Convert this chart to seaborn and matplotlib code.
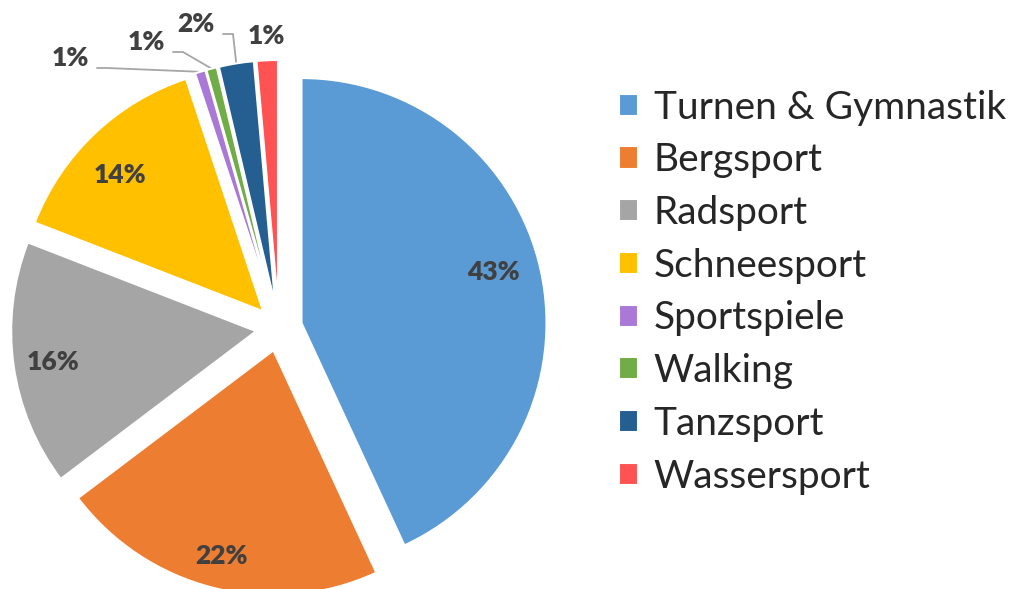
import numpy as np
import seaborn as sns
import matplotlib.pyplot as plt

# data
categories = ["Turnen & Gymnastik", "Bergsport", "Radsport", "Schneesport",
              "Sportspiele", "Walking", "Tanzsport", "Wassersport"]
shares = [43.1, 21.6, 16.2, 14.0, 0.7, 0.7, 2.3, 1.4]
colors = ["#5B9BD5", "#ED7D31", "#A5A5A5", "#FFC000",
          "#AA78D6", "#70AD47", "#255E91", "#FF5353"]

# layout (pixels of the 1020x589 image)
W, H = 1020, 589
CX, CY, R = 279, 328, 245
label_px = [(493, 272), (222, 556), (53, 362), (120, 175),
            (70, 58), (146, 42), (196, 24), (266, 36)]
leader = [False, False, False, False, True, True, True, False]


def px(x, y):
    return (x - CX) / R, (CY - y) / R


if __name__ == "__main__":
    sns.set_theme(style="white")
    plt.rcParams["font.family"] = ["Lato", "DejaVu Sans"]

    fig = plt.figure(figsize=(W / 100, H / 100), dpi=100)
    ax = fig.add_axes([0, 0, 1, 1])

    wedges, texts, autotexts = ax.pie(
        shares, colors=sns.color_palette(colors), startangle=90, counterclock=False,
        explode=[0.094] * len(shares), radius=1, autopct="%.0f%%",
        wedgeprops=dict(linewidth=1.5, edgecolor="white"),
        textprops=dict(color="#404040", fontsize=19, fontweight="heavy"))

    for w, t, pos, lead in zip(wedges, autotexts, label_px, leader):
        t.set_position(px(*pos))
        t.set_ha("center")
        t.set_va("center")
        if lead:
            # outer middle point of the wedge
            th = np.deg2rad((w.theta1 + w.theta2) / 2)
            cx, cy = w.center
            ex, ey = cx + w.r * np.cos(th), cy + w.r * np.sin(th)
            lx, ly = px(pos[0] + 27, pos[1] + 10)
            bx = lx + 10 / R
            ax.plot([lx, bx, ex], [ly, ly, ey], color="#A6A6A6", lw=1.3,
                    solid_joinstyle="miter", zorder=0.5)

    ax.set_xlim(-CX / R, (W - CX) / R)
    ax.set_ylim(-(H - CY) / R, CY / R)
    ax.set_aspect("equal")
    ax.axis("off")

    leg = ax.legend(wedges, categories, loc="upper left",
                    bbox_to_anchor=(603 / W, 1 - 74 / H), frameon=False,
                    fontsize=28, handlelength=0.5, handleheight=0.5,
                    handletextpad=0.4, labelspacing=0.43, borderaxespad=0)

    plt.savefig("out.png", dpi=100)
